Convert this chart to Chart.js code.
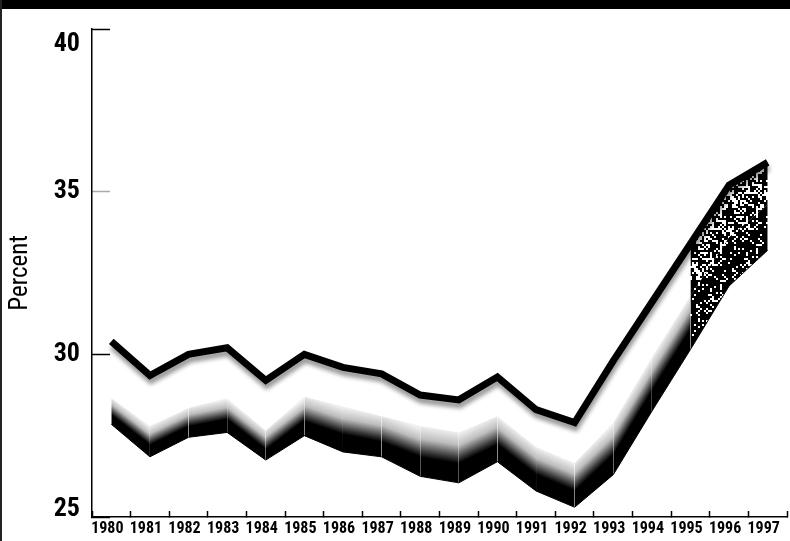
<!DOCTYPE html>
<html><head><meta charset="utf-8">
<script src="https://cdn.jsdelivr.net/npm/chart.js@4.4.1/dist/chart.umd.min.js"></script>
<style>
html,body{margin:0;padding:0;background:#fff;}
#wrap{position:relative;width:790px;height:541px;overflow:hidden;background:#fff;}
#c{position:absolute;left:0;top:0;}
#topbar{position:absolute;left:0;top:0;width:790px;height:9px;background:#000;}
#leftbar{position:absolute;left:0;top:0;width:2px;height:541px;background:#222;}
</style></head>
<body><div id="wrap"><canvas id="c" width="790" height="541"></canvas><div id="topbar"></div><div id="leftbar"></div></div>
<script>
const years = ['1980','1981','1982','1983','1984','1985','1986','1987','1988','1989','1990','1991','1992','1993','1994','1995','1996','1997'];
const topEdge    = [30.4, 29.35, 30.0, 30.2, 29.2, 30.0, 29.6, 29.4, 28.75, 28.6, 29.3, 28.3, 27.9, 29.8, 31.6, 33.4, 35.2, 35.9];
const faceTop    = [28.65, 27.8, 28.35, 28.65, 27.65, 28.7, 28.4, 28.1, 27.8, 27.6, 28.1, 27.15, 26.65, 27.9, 29.9, 31.8, 33.6, 34.6];
const bottomEdge = [27.85, 26.85, 27.45, 27.6, 26.75, 27.5, 27.0, 26.85, 26.25, 26.05, 26.7, 25.8, 25.3, 26.3, 28.25, 30.15, 32.1, 33.2];
const yTicks = [25, 30, 35, 40];
const stippleFrom = 15;

const canvas = document.getElementById('c');
const cctx = canvas.getContext('2d');
let chartRef = null;

// pick the narrowest installed sans face for the condensed look
function mw(f, t) { cctx.font = f; return cctx.measureText(t).width; }
function hasFamily(fam) {
  const s = 'Percent 1980 wWmM';
  return Math.abs(mw('bold 100px ' + fam + ', monospace', s) - mw('bold 100px ' + fam + ', serif', s)) < 0.5;
}
let FAMILY = "'Liberation Sans', Arial, sans-serif";
let STRETCH = '';
const cands = [
  ["'Liberation Sans Narrow'", ''], ["'Arial Narrow'", ''], ["'Roboto Condensed'", ''], ["'Noto Sans Condensed'", ''],
  ["'Noto Sans'", 'condensed'], ["'Open Sans'", 'condensed'], ["'DejaVu Sans Condensed'", ''], ["'DejaVu Sans'", 'condensed']
];
for (const [fam, st] of cands) {
  if (!hasFamily(fam)) continue;
  if (st) {
    const wn = mw('bold 100px ' + fam, '1980');
    const wc = mw('bold ' + st + ' 100px ' + fam, '1980');
    if (!(wc < wn - 1)) continue;
    if (wc / 100 > 2.3) continue;
  } else {
    if (mw('bold 100px ' + fam, '1980') / 100 > 2.3) continue;
  }
  FAMILY = fam + ", 'Liberation Sans', sans-serif"; STRETCH = st; break;
}
const W_BOLD = (STRETCH ? 'bold ' + STRETCH : 'bold');
const W_REG = (STRETCH ? STRETCH : 'normal');
const xSize = Math.min(19, Math.round(31.5 / (mw(W_BOLD + ' 100px ' + FAMILY, '1980') / 100)));
const ySize = Math.min(31, Math.round(26.5 / (mw(W_BOLD + ' 100px ' + FAMILY, '35') / 100)));
const tSize = Math.min(28, Math.round(77 / (mw(W_REG + ' 100px ' + FAMILY, 'Percent') / 100)));

function makePattern(density, block) {
  const size = 36;
  const c = document.createElement('canvas'); c.width = size; c.height = size;
  const g = c.getContext('2d');
  g.fillStyle = '#fff'; g.fillRect(0, 0, size, size);
  g.fillStyle = '#000';
  for (let by = 0; by < size; by += block) {
    for (let bx = 0; bx < size; bx += block) {
      let h = (Math.imul(bx + 17, 374761393) ^ Math.imul(by + 31, 668265263)) >>> 0;
      h = Math.imul(h ^ (h >>> 13), 1274126177) >>> 0;
      h = (h ^ (h >>> 16)) >>> 0;
      if ((h % 1000) / 1000 < density) g.fillRect(bx, by, block, block);
    }
  }
  return cctx.createPattern(c, 'repeat');
}
const patMed = makePattern(0.62, 2);
const patDark = makePattern(0.82, 2);

function faceGradient(ctx) {
  if (!chartRef) return '#888';
  const p0 = ctx.p0, p1 = ctx.p1;
  const meta = chartRef.getDatasetMeta(1);
  const t0 = meta.data[ctx.p0DataIndex], t1 = meta.data[ctx.p1DataIndex];
  if (!t0 || !t1) return '#888';
  const xm = (p0.x + p1.x) / 2;
  const ytm = (t0.y + t1.y) / 2;
  const ybm = (p0.y + p1.y) / 2;
  const dx = p1.x - p0.x;
  const dy = ((t1.y + p1.y) - (t0.y + p0.y)) / 2;
  const len = Math.hypot(dx, dy) || 1;
  const nx = -dy / len, ny = dx / len;
  const thick = (ybm - ytm) * dx / len;
  const g = cctx.createLinearGradient(xm, ytm, xm + nx * thick, ytm + ny * thick);
  g.addColorStop(0, '#efefef');
  g.addColorStop(0.25, '#bdbdbd');
  g.addColorStop(0.5, '#3a3a3a');
  g.addColorStop(0.62, '#000000');
  g.addColorStop(1, '#000000');
  return g;
}

const helper = {
  id: 'helper',
  beforeInit(chart) { chartRef = chart; },
  beforeDatasetDraw(chart, args) {
    if (args.index === 0) {
      const c = chart.ctx; c.save();
      c.shadowColor = 'rgba(0,0,0,0.4)';
      c.shadowBlur = 4; c.shadowOffsetX = 1; c.shadowOffsetY = 5;
    }
  },
  afterDatasetDraw(chart, args) {
    if (args.index === 0) chart.ctx.restore();
  }
};

new Chart(canvas, {
  type: 'line',
  data: {
    labels: years,
    datasets: [
      { label: 'top', data: topEdge, borderColor: '#000', borderWidth: 7, borderJoinStyle: 'miter', borderCapStyle: 'butt', fill: false, pointRadius: 0, tension: 0 },
      { label: 'faceTop', data: faceTop, borderWidth: 0, borderColor: 'rgba(0,0,0,0)', backgroundColor: 'rgba(0,0,0,0)', pointRadius: 0, tension: 0,
        fill: '-1',
        segment: { backgroundColor: ctx => ctx.p0DataIndex >= stippleFrom ? patMed : 'rgba(0,0,0,0)' } },
      { label: 'bottom', data: bottomEdge, borderWidth: 1, borderColor: '#000', backgroundColor: '#444', pointRadius: 0, tension: 0,
        fill: '-1',
        segment: { backgroundColor: ctx => ctx.p0DataIndex >= stippleFrom ? patDark : faceGradient(ctx) } }
    ]
  },
  options: {
    responsive: false,
    animation: false,
    devicePixelRatio: 1,
    layout: { padding: { top: 29, right: 3, left: 0, bottom: 0 } },
    plugins: { legend: { display: false }, tooltip: { enabled: false } },
    scales: {
      x: {
        type: 'category',
        offset: true,
        grid: { offset: true, drawOnChartArea: false, drawTicks: true, tickLength: -6, tickWidth: 1.5, tickColor: '#000' },
        border: { display: true, color: '#000', width: 1.5 },
        ticks: { font: { family: FAMILY, size: xSize, weight: W_BOLD }, color: '#000', padding: 8, labelOffset: -4, maxRotation: 0, autoSkip: false },
        afterFit: s => { s.height = 24; s.paddingLeft = 0; s.paddingRight = 0; }
      },
      y: {
        min: 25, max: 40,
        afterBuildTicks: s => { s.ticks = yTicks.map(v => ({ value: v })); },
        grid: { drawOnChartArea: false, drawTicks: true, tickLength: -18, tickWidth: 1.5,
          tickColor: ctx => (ctx.tick && ctx.tick.value === 35) ? '#aaaaaa' : '#000' },
        border: { display: true, color: '#000', width: 1.5 },
        ticks: {
          color: '#000', padding: 30,
          font: ctx => ({ family: FAMILY, size: ySize, weight: W_BOLD, lineHeight: (ctx.tick && ctx.tick.value === 25) ? 0.6 : 1.2 }),
          callback: v => v === 40 ? ['', '40'] : (v === 25 ? ['25', ''] : String(v))
        },
        title: { display: true, text: 'Percent', color: '#000', font: { family: FAMILY, size: tSize, weight: W_REG }, padding: { top: 6, bottom: 0 } },
        afterFit: s => { s.width = 92; s.paddingTop = 0; s.paddingBottom = 0; }
      }
    }
  },
  plugins: [helper]
});
</script>
</body></html>
